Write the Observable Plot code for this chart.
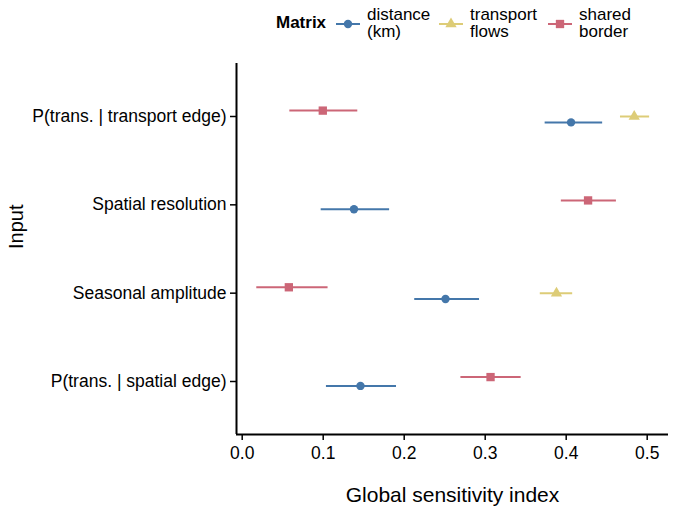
<!DOCTYPE html>
<html><head><meta charset="utf-8">
<script src="https://cdn.jsdelivr.net/npm/d3@7"></script>
<script src="https://cdn.jsdelivr.net/npm/@observablehq/plot@0.6"></script>
<style>
body{margin:0;background:#fff;font-family:"Liberation Sans",Arial,Helvetica,sans-serif;}
#wrap{position:relative;width:675px;height:510px;}
#legend{position:absolute;left:0;top:0;width:675px;height:50px;font-size:17px;color:#000;}
#legend .title{position:absolute;left:276px;top:14px;font-weight:bold;line-height:17px;}
#legend .item{position:absolute;top:0;}
#legend .item svg{position:absolute;left:0;top:16px;}
#legend .item .lab{position:absolute;top:6px;line-height:17px;white-space:nowrap;}
</style></head><body><div id="wrap"><div id="legend"></div></div>
<script>
const inputs = ["P(trans. | transport edge)", "Spatial resolution", "Seasonal amplitude", "P(trans. | spatial edge)"];
const matrices = ["distance (km)", "transport flows", "shared border"];
const legendLabels = [["distance", "(km)"], ["transport", "flows"], ["shared", "border"]];
const colors = ["#4477AA", "#DDCC77", "#CC6677"];
const symbols = ["circle", "triangle", "square"];

// estimates and interval ends per matrix, in the order of `inputs` (null = absent)
const distanceEst  = [0.406, 0.138, 0.251, 0.146];
const distanceLo   = [0.374, 0.0975, 0.213, 0.104];
const distanceHi   = [0.445, 0.182, 0.293, 0.1905];
const transportEst = [0.484, null, 0.388, null];
const transportLo  = [0.467, null, 0.368, null];
const transportHi  = [0.503, null, 0.408, null];
const borderEst    = [0.0995, 0.427, 0.0576, 0.3066];
const borderLo     = [0.0588, 0.394, 0.018, 0.270];
const borderHi     = [0.1427, 0.462, 0.106, 0.3444];
const xTicks = [0, 0.1, 0.2, 0.3, 0.4, 0.5];

const est = [distanceEst, transportEst, borderEst];
const lo = [distanceLo, transportLo, borderLo];
const hi = [distanceHi, transportHi, borderHi];

const dodgeWidth = 0.2;
const rows = [];
inputs.forEach((inp, i) => {
  const present = matrices.map((m, k) => k).filter(k => est[k][i] != null);
  const n = present.length;
  present.forEach((k, j) => {
    rows.push({
      input: inp,
      matrix: matrices[k],
      est: est[k][i], lo: lo[k][i], hi: hi[k][i],
      pos: i - (j - (n - 1) / 2) * dodgeWidth / n
    });
  });
});

const xDomain = [-0.00704, 0.5263];
const yDomain = [-0.6, 3.6];

const plot = Plot.plot({
  width: 675, height: 510,
  marginLeft: 236, marginRight: 7, marginTop: 63, marginBottom: 76,
  style: {fontFamily: "Liberation Sans, Arial, Helvetica, sans-serif", fontSize: "17px", background: "white", color: "black"},
  x: {domain: xDomain},
  y: {domain: yDomain, reverse: true},
  color: {domain: matrices, range: colors},
  symbol: {domain: matrices, range: symbols},
  marks: [
    Plot.ruleY(rows, {y: "pos", x1: "lo", x2: "hi", stroke: "matrix", strokeWidth: 2}),
    Plot.dot(rows.filter(d => d.matrix !== matrices[2]), {x: "est", y: "pos", fill: "matrix", symbol: "matrix", r: 4.2, stroke: "none"}),
    Plot.dot(rows.filter(d => d.matrix === matrices[2]), {x: "est", y: "pos", fill: "matrix", symbol: "matrix", r: 4.7, stroke: "none"}),
    Plot.axisX({ticks: xTicks, tickFormat: d3.format(".1f"), tickSize: 6, tickPadding: 6, fontSize: 17.5, label: null, strokeWidth: 1.5}),
    Plot.axisY({ticks: [0, 1, 2, 3], tickFormat: i => inputs[i], tickSize: 6, tickPadding: 4, fontSize: 17.5, label: null, strokeWidth: 1.5}),
    Plot.ruleX([xDomain[0]], {strokeWidth: 2}),
    Plot.ruleY([yDomain[1]], {strokeWidth: 2}),
    Plot.text(["Global sensitivity index"], {frameAnchor: "bottom", dy: 67, lineAnchor: "bottom", fontSize: 21, fill: "black"}),
    Plot.text(["Input"], {frameAnchor: "left", dx: -214, rotate: -90, lineAnchor: "bottom", fontSize: 20, fill: "black"})
  ]
});
document.getElementById("wrap").appendChild(plot);

// legend (HTML, above the plot)
const legend = document.getElementById("legend");
const t = document.createElement("div");
t.className = "title"; t.textContent = "Matrix";
legend.appendChild(t);
const swLeft = [336, 439, 548];
const sym = {circle: d3.symbolCircle, triangle: d3.symbolTriangle, square: d3.symbolSquare};
matrices.forEach((m, k) => {
  const it = document.createElement("div");
  it.className = "item";
  it.style.left = swLeft[k] + "px";
  const svg = d3.create("svg").attr("width", 24).attr("height", 16);
  svg.append("line").attr("x1", 0).attr("x2", 24).attr("y1", 8).attr("y2", 8).attr("stroke", colors[k]).attr("stroke-width", 2);
  const r = symbols[k] === "square" ? 4.7 : 4.2;
  svg.append("path").attr("transform", "translate(12,8)").attr("d", d3.symbol(sym[symbols[k]], r * r * Math.PI)()).attr("fill", colors[k]);
  it.appendChild(svg.node());
  const lab = document.createElement("div");
  lab.className = "lab";
  lab.style.left = "31px";
  lab.innerHTML = legendLabels[k].join("<br>");
  it.appendChild(lab);
  legend.appendChild(it);
});
</script></body></html>
